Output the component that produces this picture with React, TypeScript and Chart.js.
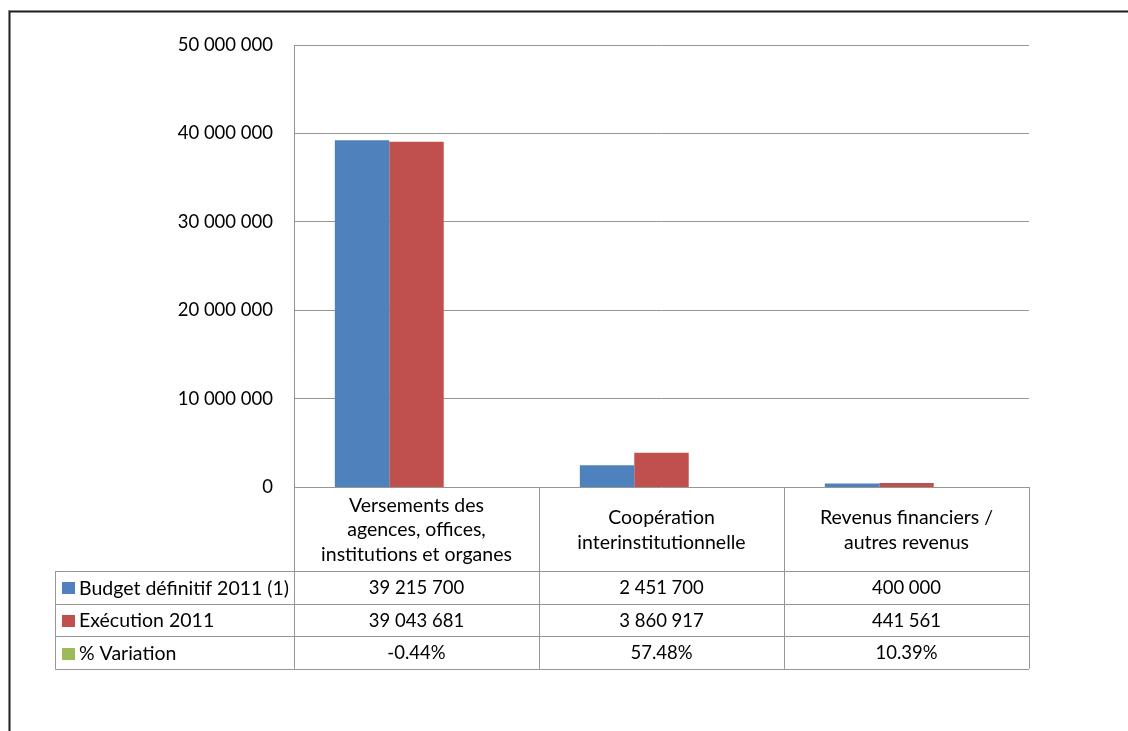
import React, { useEffect, useRef } from "react";
import { Chart, registerables } from "chart.js";

Chart.register(...registerables);

// Categories (header cells of the data table, one entry per line)
const categories: string[][] = [
  ["Versements des", "agences, offices,", "institutions et organes"],
  ["Coopération", "interinstitutionnelle"],
  ["Revenus financiers /", "autres revenus"],
];

const seriesNames = ["Budget définitif 2011 (1)", "Exécution 2011", "% Variation"];
const seriesColors = ["#4F81BD", "#C0504D", "#9BBB59"];

const budget = [39215700, 2451700, 400000];
const execution = [39043681, 3860917, 441561];
// Variation stored as a fraction (plotted on the same axis, so it stays flat)
const variation = [-0.0044, 0.5748, 0.1039];

const yMax = 50000000;
const yStep = 10000000;

const FONT = 'Lato, "Open Sans", sans-serif';
const NUM_SIZE = 18.5;
const TEXT_SIZE = 19.5;
const GRID = "#969696";

function groupDigits(n: number): string {
  const s = Math.round(Math.abs(n)).toString();
  const out = s.replace(/\B(?=(\d{3})+(?!\d))/g, " ");
  return n < 0 ? "-" + out : out;
}

function pct(v: number): string {
  return (v * 100).toFixed(2) + "%";
}

const tableRows: string[][] = [
  budget.map(groupDigits),
  execution.map(groupDigits),
  variation.map(pct),
];

const tablePlugin = {
  id: "frameAndTable",
  beforeDraw(chart: any) {
    const ctx = chart.ctx;
    ctx.save();
    ctx.fillStyle = "#ffffff";
    ctx.fillRect(0, 0, chart.width, chart.height);
    // outer frame (left and top edges)
    ctx.fillStyle = "#8a8a8a";
    ctx.fillRect(8, 10, 1, chart.height);
    ctx.fillRect(8, 10, chart.width, 1);
    ctx.fillStyle = "#1e1e1e";
    ctx.fillRect(9, 11, 1.5, chart.height);
    ctx.fillRect(9, 11, chart.width, 1.5);
    ctx.restore();
  },
  afterDraw(chart: any) {
    const ctx = chart.ctx;
    const { left, right, bottom } = chart.chartArea;
    const xs = chart.scales.x;
    const ys = chart.scales.y;
    const n = categories.length;
    const catW = (right - left) / n;
    const headerH = 84;
    const rowH = 32.6;
    const tableLeft = 55;
    const headerBottom = bottom + headerH;
    const tableBottom = headerBottom + rowH * tableRows.length;

    ctx.save();
    ctx.strokeStyle = GRID;
    ctx.lineWidth = 1;
    const hline = (x1: number, x2: number, y: number) => {
      const yy = Math.round(y) + 0.5;
      ctx.beginPath();
      ctx.moveTo(x1, yy);
      ctx.lineTo(x2, yy);
      ctx.stroke();
    };
    const vline = (x: number, y1: number, y2: number) => {
      const xx = Math.round(x) + 0.5;
      ctx.beginPath();
      ctx.moveTo(xx, y1);
      ctx.lineTo(xx, y2);
      ctx.stroke();
    };

    // category axis line at zero (also the top edge of the table)
    hline(left, right, ys.getPixelForValue(0));
    // vertical axis continues through the table
    vline(left - 0.5, chart.chartArea.top, tableBottom);
    // column dividers
    for (let i = 0; i < n; i++) {
      const cx = xs.getPixelForValue(i);
      vline(cx + catW / 2 - 0.5, bottom, tableBottom);
    }
    // row lines
    for (let r = 0; r <= tableRows.length; r++) {
      hline(tableLeft, right, headerBottom + rowH * r);
    }
    vline(tableLeft - 0.5, headerBottom, tableBottom);

    // header labels
    ctx.fillStyle = "#000000";
    ctx.font = `${TEXT_SIZE}px ${FONT}`;
    ctx.textAlign = "center";
    ctx.textBaseline = "middle";
    const lineH = 24.5;
    for (let i = 0; i < n; i++) {
      const cx = xs.getPixelForValue(i);
      const lines = categories[i];
      const midY = bottom + headerH / 2 + 1;
      const startY = midY - ((lines.length - 1) * lineH) / 2;
      lines.forEach((t, k) => ctx.fillText(t, cx, startY + k * lineH));
    }

    // data rows
    for (let r = 0; r < tableRows.length; r++) {
      const cy = headerBottom + rowH * r + rowH / 2 + 1;
      ctx.textAlign = "center";
      ctx.font = `${NUM_SIZE}px ${FONT}`;
      for (let i = 0; i < n; i++) {
        ctx.fillText(tableRows[r][i], xs.getPixelForValue(i), cy);
      }
      // legend key and series name
      ctx.fillStyle = seriesColors[r];
      ctx.fillRect(62, Math.round(cy - 6), 13, 12);
      ctx.fillStyle = "#000000";
      ctx.textAlign = "left";
      ctx.font = `${TEXT_SIZE}px ${FONT}`;
      ctx.fillText(seriesNames[r], 79, cy);
    }
    ctx.restore();
  },
};

export default function App() {
  const ref = useRef<HTMLCanvasElement | null>(null);

  useEffect(() => {
    if (!ref.current) return;
    const chart = new Chart(ref.current, {
      type: "bar",
      data: {
        labels: categories.map((c) => c.join(" ")),
        datasets: [
          { label: seriesNames[0], data: budget, backgroundColor: seriesColors[0] },
          { label: seriesNames[1], data: execution, backgroundColor: seriesColors[1] },
          { label: seriesNames[2], data: variation, backgroundColor: seriesColors[2] },
        ],
      },
      options: {
        responsive: false,
        animation: false,
        events: [],
        layout: { padding: { left: 0, top: 45, right: 99, bottom: 244 } },
        datasets: {
          bar: {
            barPercentage: 1,
            categoryPercentage: 2 / 3,
            borderWidth: 0,
            inflateAmount: 0,
          },
        },
        plugins: {
          legend: { display: false },
          tooltip: { enabled: false },
          title: { display: false },
        },
        scales: {
          x: { display: false },
          y: {
            min: 0,
            max: yMax,
            afterFit: (s: any) => {
              s.width = 294;
            },
            border: { display: false },
            grid: {
              color: GRID,
              drawTicks: false,
              // the zero line is drawn with the table, after the bars
              lineWidth: (c: any) => (c.tick && c.tick.value === 0 ? 0 : 1),
            },
            ticks: {
              stepSize: yStep,
              padding: 21,
              color: "#000000",
              font: { family: FONT, size: NUM_SIZE },
              callback: (v: any) => groupDigits(Number(v)),
            },
          },
        },
      },
      plugins: [tablePlugin],
    });
    return () => chart.destroy();
  }, []);

  return (
    <div style={{ position: "absolute", left: 0, top: 0, width: 1128, height: 731 }}>
      <canvas ref={ref} width={1128} height={731} />
    </div>
  );
}
